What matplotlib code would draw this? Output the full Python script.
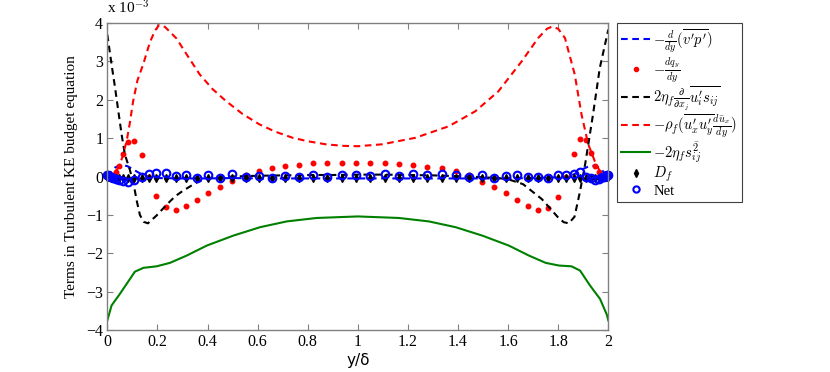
import numpy as np
import matplotlib
matplotlib.use('Agg')
import matplotlib.pyplot as plt
from matplotlib.lines import Line2D

plt.rcParams['font.family'] = ['Liberation Serif', 'DejaVu Serif']
plt.rcParams['mathtext.fontset'] = 'cm'

# ---- data (values in units of 1e-3) ----
# marker grid (y/delta)
x_pts = [0.000, 0.003, 0.008, 0.015, 0.024, 0.034, 0.046, 0.062, 0.084, 0.107,
         0.137, 0.166, 0.196, 0.236, 0.273, 0.316, 0.358, 0.402, 0.451, 0.498,
         0.552, 0.605, 0.658, 0.711, 0.766, 0.822, 0.878, 0.935, 0.992,
         1.050, 1.107, 1.164, 1.221, 1.278, 1.335, 1.392, 1.444, 1.494, 1.544,
         1.592, 1.637, 1.680, 1.720, 1.760, 1.798, 1.832, 1.862, 1.888, 1.910,
         1.930, 1.948, 1.962, 1.974, 1.984, 1.991, 1.996, 2.000]

dqdy = [0.0, 0.0, 0.01, 0.02, 0.05, 0.12, 0.28, 0.60, 0.91, 0.92,
        0.56, 0.0, -0.50, -0.79, -0.87, -0.78, -0.62, -0.43, -0.26, -0.11,
        0.03, 0.15, 0.22, 0.28, 0.31, 0.34, 0.35, 0.35, 0.35,
        0.35, 0.34, 0.32, 0.30, 0.26, 0.21, 0.14, 0.03, -0.13, -0.26,
        -0.43, -0.61, -0.78, -0.88, -0.82, -0.53, 0.0, 0.58, 0.97, 0.94,
        0.62, 0.28, 0.12, 0.05, 0.02, 0.01, 0.0, 0.0]

net = [0.05, 0.04, 0.02, 0.0, -0.03, -0.07, -0.10, -0.12, -0.13, -0.08,
       0.0, 0.06, 0.08, 0.08, 0.02, 0.03, -0.05, 0.03, -0.05, 0.07,
       -0.02, 0.02, -0.03, 0.02, -0.02, 0.05, 0.0, 0.04, 0.05,
       0.02, 0.06, 0.02, 0.06, 0.03, 0.06, 0.03, 0.0, 0.04, -0.04,
       0.02, 0.05, -0.02, 0.0, -0.03, 0.03, 0.05, 0.07, 0.12, -0.01,
       -0.05, -0.08, -0.06, -0.02, 0.0, 0.02, 0.03, 0.05]

d_f = [0.0, -0.01, -0.02, -0.03, -0.03, -0.04, -0.03, -0.04, -0.03, -0.04,
       -0.03, -0.04, -0.03, -0.05, -0.03, -0.04, -0.05, -0.03, -0.05, -0.03,
       -0.04, -0.03, -0.05, -0.03, -0.04, -0.03, -0.05, -0.03, -0.04,
       -0.03, -0.05, -0.03, -0.04, -0.03, -0.05, -0.03, -0.04, -0.03, -0.05,
       -0.03, -0.04, -0.03, -0.05, -0.03, -0.04, -0.03, -0.04, -0.03, -0.04,
       -0.03, -0.04, -0.03, -0.03, -0.02, -0.02, -0.01, 0.0]

# -d/dy (v'p')
x_vp = [0, 0.01, 0.02, 0.03, 0.045, 0.06, 0.08, 0.1, 0.12, 0.14, 0.17, 0.2,
        0.3, 0.4, 0.5, 0.6, 0.8, 1.0, 1.2, 1.4, 1.5, 1.6, 1.7, 1.8, 1.83,
        1.86, 1.88, 1.9, 1.92, 1.94, 1.955, 1.97, 1.98, 1.99, 2.0]
vp = [0.0, 0.08, 0.17, 0.23, 0.28, 0.30, 0.27, 0.20, 0.12, 0.05, -0.01, -0.04,
      -0.05, -0.05, -0.04, -0.05, -0.05, -0.05, -0.05, -0.05, -0.05, -0.05, -0.04, -0.02, 0.0,
      0.05, 0.12, 0.20, 0.26, 0.28, 0.26, 0.20, 0.13, 0.06, 0.0]

# 2 eta d/dx u's
x_us = [0, 0.017, 0.031, 0.044, 0.057, 0.07, 0.09, 0.104, 0.117, 0.13, 0.145, 0.162,
        0.196, 0.236, 0.27, 0.302, 0.34, 0.369, 0.42, 0.5, 0.6, 0.7, 0.8, 0.9,
        1.0, 1.1, 1.2, 1.3, 1.4, 1.5, 1.56, 1.6, 1.66, 1.735, 1.80, 1.822, 1.842,
        1.865, 1.886, 1.908, 1.939, 1.966, 2.0]
us = [3.70, 2.92, 2.31, 1.70, 1.10, 0.58, 0.17, -0.16, -0.62, -1.0, -1.18, -1.22,
      -1.02, -0.74, -0.52, -0.37, -0.22, -0.11, -0.04, 0.0, 0.02, 0.03, 0.04, 0.04,
      0.05, 0.05, 0.04, 0.03, 0.01, -0.02, -0.04, -0.07, -0.20, -0.59, -1.07, -1.19, -1.22,
      -1.05, -0.42, 0.34, 1.62, 2.83, 3.83]

# production -rho (u'u' du/dy)
x_pr = [0, 0.02, 0.044, 0.06, 0.077, 0.09, 0.103, 0.12, 0.143, 0.17, 0.19,
        0.207, 0.23, 0.276, 0.32, 0.369, 0.42, 0.475, 0.54, 0.607, 0.67, 0.74,
        0.8, 0.872, 0.94, 1.0, 1.097, 1.23, 1.363, 1.469, 1.561, 1.654, 1.72,
        1.755, 1.776, 1.80, 1.827, 1.866, 1.893, 1.92, 1.946, 1.972, 2.0]
prod = [0, 0.05, 0.23, 0.5, 0.92, 1.4, 1.96, 2.5, 2.92, 3.5, 3.8,
        3.95, 3.9, 3.6, 3.15, 2.66, 2.28, 1.96, 1.63, 1.36, 1.17, 1.01,
        0.92, 0.84, 0.80, 0.79, 0.84, 1.01, 1.31, 1.70, 2.22, 3.0, 3.61,
        3.85, 3.91, 3.85, 3.61, 2.66, 1.62, 0.84, 0.4, 0.06, 0]

# dissipation -2 eta s^2
x_ds = [0, 0.017, 0.05, 0.077, 0.11, 0.144, 0.197, 0.25, 0.317, 0.397, 0.503,
        0.61, 0.716, 0.836, 1.0, 1.164, 1.284, 1.39, 1.497, 1.603, 1.683, 1.75,
        1.803, 1.853, 1.887, 1.927, 1.967, 1.994, 2.0]
diss = [-3.75, -3.36, -3.06, -2.80, -2.48, -2.38, -2.34, -2.25, -2.06, -1.80, -1.54,
        -1.32, -1.17, -1.08, -1.04, -1.08, -1.17, -1.32, -1.54, -1.80, -2.06, -2.25,
        -2.32, -2.34, -2.45, -2.84, -3.19, -3.60, -3.75]

labels = [r'$-\frac{d}{dy}(\overline{v^{\prime}p^{\prime}})$',
          r'$-\frac{dq_y}{dy}$',
          r'$2\eta_f\frac{\partial}{\partial x_j}\overline{u_i^{\prime}s_{ij}}$',
          r'$-\rho_f(\overline{u_x^{\prime}u_y^{\prime}}\frac{d\bar{u}_x}{dy})$',
          r'$-2\eta_f s_{ij}^{\bar{2}}$',
          r'$D_f$',
          'Net']

# ---- figure ----
fig = plt.figure(figsize=(8.3, 3.72), dpi=100)
ax = fig.add_axes([0.1293, 0.1129, 0.6036, 0.8251])

dash = (0, (3.2, 2.2))
ax.plot(x_vp, vp, color='#0000ff', lw=1.5, ls=dash)
ax.plot(x_pts, dqdy, ls='none', marker='.', ms=6.5, color='#ff0000', clip_on=False)
ax.plot(x_us, us, color='black', lw=1.5, ls=dash)
ax.plot(x_pr, prod, color='#ff0000', lw=1.5, ls=dash)
ax.plot(x_ds, diss, color='#008000', lw=1.5)
ax.plot(x_pts, d_f, ls='none', marker='d', ms=4, color='black', clip_on=False)
ax.plot(x_pts, net, ls='none', marker='o', ms=5.5, mfc='none', mec='#0000ff',
        mew=1.5, clip_on=False)

ax.set_xlim(0, 2)
ax.set_ylim(-4, 4)
ax.set_xticks(np.arange(0, 2.01, 0.2))
ax.set_xticklabels(['0', '0.2', '0.4', '0.6', '0.8', '1', '1.2', '1.4', '1.6', '1.8', '2'])
ax.set_yticks(range(-4, 5))
ax.set_yticklabels(['\u22124', '\u22123', '\u22122', '\u22121', '0', '1', '2', '3', '4'])
ax.tick_params(direction='in', length=4, width=0.8, color='#808080',
               top=True, right=True, labelsize=11.5, pad=3)
for sp in ax.spines.values():
    sp.set_color('#808080')
    sp.set_linewidth(1.0)

ax.set_ylabel('Terms in Turbulent KE budget equation', fontsize=11, labelpad=6)
ax.set_xlabel('y/\u03b4', fontsize=11, family='DejaVu Sans', labelpad=2)
fig.text(0.1293, 0.955, r'x 10$^{-3}$', fontsize=11, ha='left', va='bottom')

handles = [
    Line2D([], [], color='#0000ff', lw=1.5, ls=dash),
    Line2D([], [], color='#ff0000', ls='none', marker='.', ms=6),
    Line2D([], [], color='black', lw=1.5, ls=dash),
    Line2D([], [], color='#ff0000', lw=1.5, ls=dash),
    Line2D([], [], color='#008000', lw=1.5),
    Line2D([], [], color='black', ls='none', marker='d', ms=4),
    Line2D([], [], color='#0000ff', ls='none', marker='o', ms=4.5, mfc='none', mew=1.5),
]
leg = fig.legend(handles, labels, loc='upper left', bbox_to_anchor=(0.743, 0.939),
                 bbox_transform=fig.transFigure, borderaxespad=0, fontsize=10.5,
                 fancybox=False, framealpha=1, edgecolor='#404040',
                 handlelength=2.0, handletextpad=0.2, labelspacing=0.0,
                 borderpad=0.3, numpoints=1)
leg.get_frame().set_linewidth(0.8)

fig.savefig('out.png', dpi=100)
